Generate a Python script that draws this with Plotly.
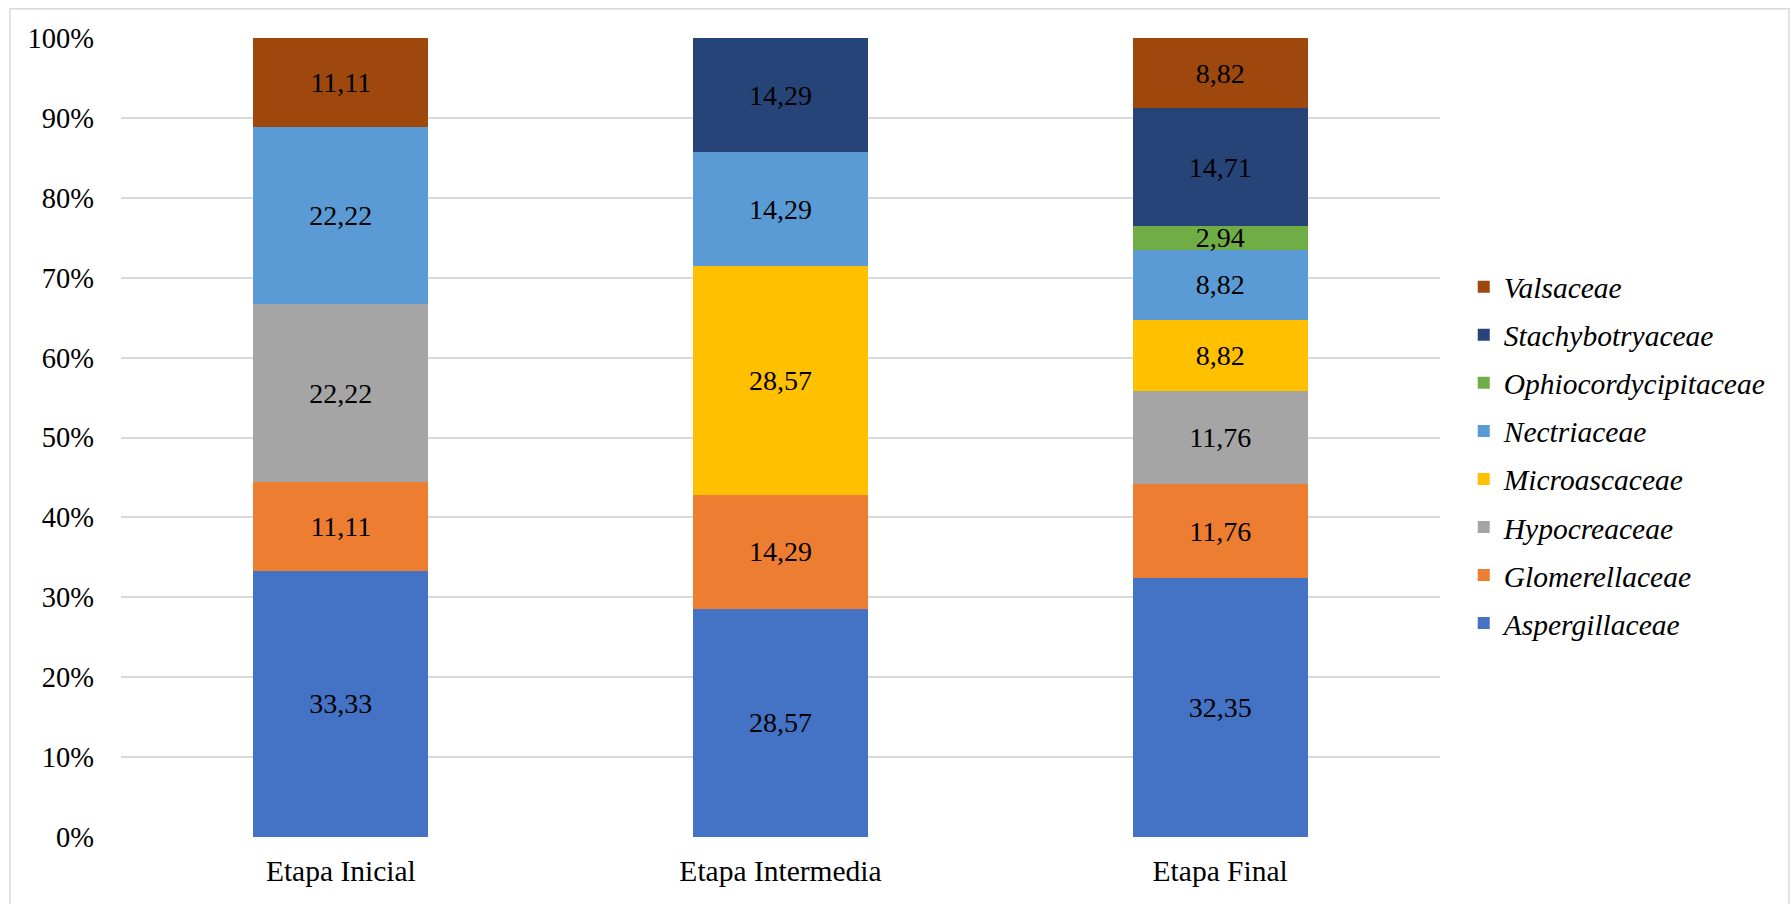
import plotly.graph_objects as go

# Stages (x categories)
stages = ["Etapa Inicial", "Etapa Intermedia", "Etapa Final"]

# Relative abundance (%) of each fungal family per stage (None = absent)
aspergillaceae = [33.33, 28.57, 32.35]
glomerellaceae = [11.11, 14.29, 11.76]
hypocreaceae = [22.22, None, 11.76]
microascaceae = [None, 28.57, 8.82]
nectriaceae = [22.22, 14.29, 8.82]
ophiocordycipitaceae = [None, None, 2.94]
stachybotryaceae = [None, 14.29, 14.71]
valsaceae = [11.11, None, 8.82]

families = [
    ("Aspergillaceae", aspergillaceae, "#4472C4"),
    ("Glomerellaceae", glomerellaceae, "#ED7D31"),
    ("Hypocreaceae", hypocreaceae, "#A5A5A5"),
    ("Microascaceae", microascaceae, "#FFC000"),
    ("Nectriaceae", nectriaceae, "#5B9BD5"),
    ("Ophiocordycipitaceae", ophiocordycipitaceae, "#70AD47"),
    ("Stachybotryaceae", stachybotryaceae, "#264478"),
    ("Valsaceae", valsaceae, "#9E480E"),
]

y_ticks = [i / 10 for i in range(11)]

FONT = "Liberation Serif"

fig = go.Figure()
n = len(families)
for i, (name, vals, color) in enumerate(families):
    labels = [None if v is None else f"{v:.2f}".replace(".", ",") for v in vals]
    fig.add_trace(go.Bar(
        name=name,
        x=stages,
        y=vals,
        text=labels,
        texttemplate="%{text}",
        textposition="inside",
        insidetextanchor="middle",
        textangle=0,
        constraintext="none",
        textfont=dict(family=FONT, size=28, color="#000000"),
        marker=dict(color=color, line=dict(width=0)),
        legendgroup=name,
        legendrank=n - i,  # top of stack listed first
        hoverinfo="skip",
    ))

# Light frame around the whole chart
fig.add_shape(
    type="rect", xref="paper", yref="paper",
    x0=(10 - 121) / 1319, x1=(1789 - 121) / 1319,
    y0=(837.3 - 960) / 799, y1=(837.3 - 9) / 799,
    line=dict(color="#D9D9D9", width=1.5),
    fillcolor="rgba(0,0,0,0)", layer="below",
)

fig.update_layout(
    barmode="stack",
    barnorm="fraction",
    bargap=0.602,
    width=1791,
    height=904,
    margin=dict(l=121, r=351, t=38, b=67),
    paper_bgcolor="white",
    plot_bgcolor="white",
    font=dict(family=FONT, size=27, color="#000000"),
    showlegend=True,
    legend=dict(
        x=1.018, y=0.478, xanchor="left", yanchor="middle",
        traceorder="grouped",
        tracegroupgap=6.7,
        font=dict(family=FONT, size=29.5, color="#000000", style="italic"),
        bgcolor="rgba(0,0,0,0)",
        itemclick=False, itemdoubleclick=False,
    ),
    xaxis=dict(
        showgrid=False, showline=False, zeroline=False,
        ticks="", ticklabelstandoff=13,
        tickfont=dict(family=FONT, size=29.5, color="#000000"),
    ),
    yaxis=dict(
        range=[0, 1],
        tickvals=y_ticks,
        tickformat=".0%",
        showgrid=True, gridcolor="#D9D9D9", gridwidth=1.5,
        zeroline=False, showline=False, ticks="",
        ticklabelstandoff=26,
        tickfont=dict(family=FONT, size=28.5, color="#000000"),
    ),
)

fig.write_html("out.html")
